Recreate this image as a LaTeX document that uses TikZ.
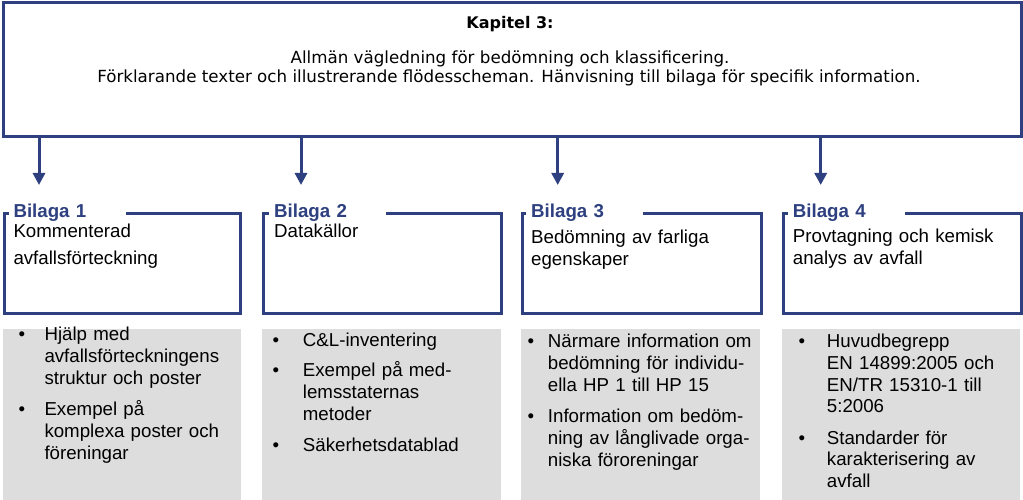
\documentclass[tikz,border=0pt]{standalone}
\usepackage{fontspec}
\setmainfont{Liberation Sans}
\newfontfamily\verd{DejaVu Sans}
\usetikzlibrary{arrows.meta}
\definecolor{navy}{RGB}{46,64,128}
\definecolor{lgray}{RGB}{221,221,221}
\tikzset{
  topbox/.style={draw=navy, line width=3pt, fill=white, inner sep=0pt},
  bbox/.style={draw=navy, line width=3pt, inner sep=0pt, anchor=north west},
  gbox/.style={fill=lgray, inner sep=0pt, anchor=north west},
  lbl/.style={fill=white, text=navy, font=\fontsize{18.7}{22}\selectfont\bfseries, anchor=base west, inner xsep=5pt, inner ysep=2pt, text width=107pt, align=left},
  btxt/.style={font=\fontsize{18.7}{22}\selectfont, anchor=base west, inner sep=0pt, text width=225pt, align=left},
  itm/.style={font=\fontsize{18.7}{21.7}\selectfont, anchor=base west, inner sep=0pt, text width=225pt, align=left},
  bul/.style={font=\fontsize{18.7}{21.7}\selectfont, anchor=base, inner sep=0pt},
  vtxt/.style={font=\verd\fontsize{16.7}{20}\selectfont, anchor=base, inner sep=0pt},
  arr/.style={draw=navy, line width=3pt, -{Triangle[width=12pt,length=12pt]}}
}
\begin{document}
\begin{tikzpicture}[x=1pt,y=-1pt]
\useasboundingbox (0,0) rectangle (1023,500);
% top box
\node[topbox, minimum width=1018pt, minimum height=133.5pt, anchor=north west] (top) at (1.5,1.5) {};
\node[vtxt, font=\verd\fontsize{16}{20}\selectfont\bfseries] (kap) at (510,29) {Kapitel 3:};
\node[vtxt] (l1) at (510,64) {Allmän vägledning för bedömning och klassificering.};
\node[vtxt] (l2) at (509,82.5) {Förklarande texter och illustrerande flödesscheman. Hänvisning till bilaga för specifik information.};
% gray boxes
\node[gbox, minimum width=237.7pt, minimum height=171pt] (g1) at (3,329) {};
\node[gbox, minimum width=239pt, minimum height=171pt] (g2) at (262,329) {};
\node[gbox, minimum width=239pt, minimum height=171pt] (g3) at (521,329) {};
\node[gbox, minimum width=238pt, minimum height=171pt] (g4) at (782,329) {};
% bilaga boxes
\node[bbox, minimum width=236pt, minimum height=100pt] (b1) at (3,212) {};
\node[bbox, minimum width=238pt, minimum height=100pt] (b2) at (262,212) {};
\node[bbox, minimum width=239pt, minimum height=100pt] (b3) at (521,212) {};
\node[bbox, minimum width=238pt, minimum height=100pt] (b4) at (782,212) {};
% labels
\node[lbl] (lb1) at (8.3,217) {Bilaga 1};
\node[lbl] (lb2) at (269,217) {Bilaga 2};
\node[lbl] (lb3) at (526,217) {Bilaga 3};
\node[lbl] (lb4) at (787.7,217) {Bilaga 4};
% box texts
\node[btxt, font=\fontsize{18.7}{27}\selectfont] (t1) at (13.3,237) {Kommenterad\\avfallsförteckning};
\node[btxt] (t2) at (274,237) {Datakällor};
\node[btxt, font=\fontsize{18.7}{22}\selectfont] (t3) at (531,243) {Bedömning av farliga\\egenskaper};
\node[btxt, font=\fontsize{18.7}{21.5}\selectfont] (t4) at (792.7,242.7) {Provtagning och kemisk\\analys av avfall};
% arrows
\coordinate (a1) at (39,185);
\coordinate (a2) at (301,185);
\coordinate (a3) at (557.7,185);
\coordinate (a4) at (820.7,185);
\draw[arr] (top.south -| a1) -- (a1);
\draw[arr] (top.south -| a2) -- (a2);
\draw[arr] (top.south -| a3) -- (a3);
\draw[arr] (top.south -| a4) -- (a4);
% bullets box 1
\node[bul] (p11) at (22,340.7) {•};
\node[itm] (i11) at (44.3,340.7) {Hjälp med\\avfallsförteckningens\\struktur och poster};
\node[bul] (p12) at (22,415.7) {•};
\node[itm] (i12) at (44.3,415.7) {Exempel på\\komplexa poster och\\föreningar};
% bullets box 2
\node[bul] (p21) at (276,346) {•};
\node[itm] (i21) at (302.7,346) {C\&L-inventering};
\node[bul] (p22) at (276,376.7) {•};
\node[itm] (i22) at (302.7,376.7) {Exempel på med-\\lemsstaternas\\metoder};
\node[bul] (p23) at (276,451) {•};
\node[itm] (i23) at (302.7,451) {Säkerhetsdatablad};
% bullets box 3
\node[bul] (p31) at (531,347.7) {•};
\node[itm] (i31) at (547.7,347.7) {Närmare information om\\bedömning för individu-\\ella HP 1 till HP 15};
\node[bul] (p32) at (531,422.7) {•};
\node[itm] (i32) at (547.7,422.7) {Information om bedöm-\\ning av långlivade orga-\\niska föroreningar};
% bullets box 4
\node[bul] (p41) at (802,347.7) {•};
\node[itm] (i41) at (826.7,347.7) {Huvudbegrepp\\EN 14899:2005 och\\EN/TR 15310-1 till\\5:2006};
\node[bul] (p42) at (802,444) {•};
\node[itm] (i42) at (826.7,444) {Standarder för\\karakterisering av\\avfall};
\end{tikzpicture}
\end{document}
